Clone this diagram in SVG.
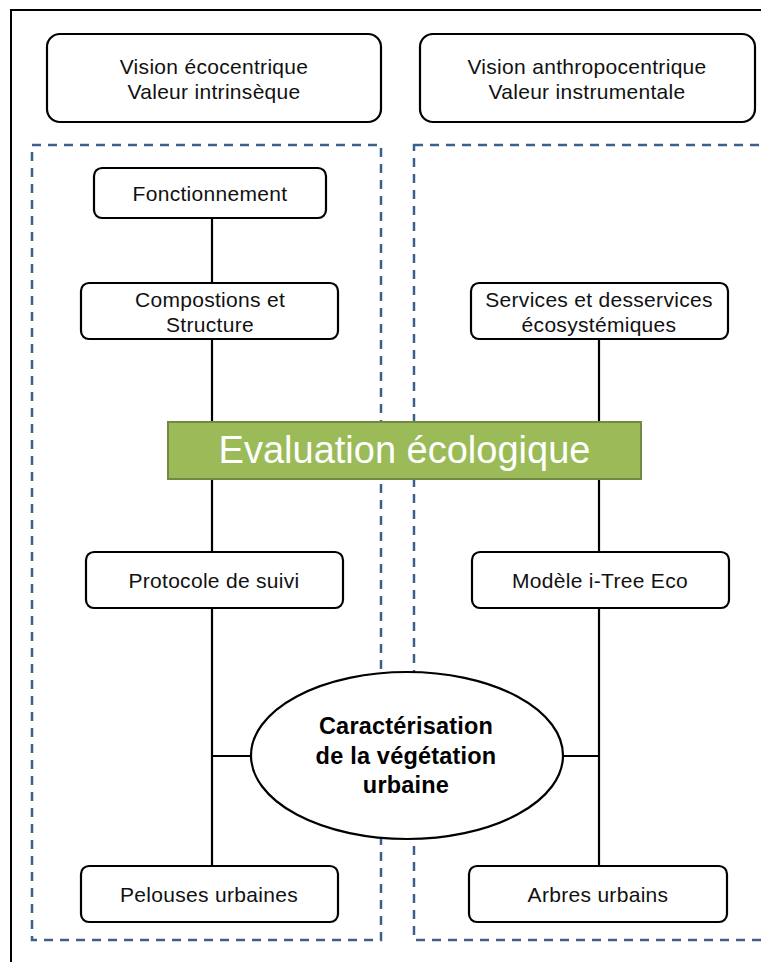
<svg xmlns="http://www.w3.org/2000/svg" width="761" height="962" viewBox="0 0 761 962">
<style>
.box{fill:#fff;stroke:#000;stroke-width:2.2}
.dash{fill:none;stroke:#3c5f8c;stroke-width:2.5;stroke-dasharray:9 7}
.t{font-family:"Liberation Sans",Arial,sans-serif;font-size:21px;letter-spacing:0.3px;fill:#111;text-anchor:middle}
.b{font-family:"Liberation Sans",Arial,sans-serif;font-size:23.5px;letter-spacing:0.2px;font-weight:bold;fill:#000;text-anchor:middle}
.g{font-family:"Liberation Sans",Arial,sans-serif;font-size:38px;fill:#fff;text-anchor:middle}
.ln{stroke:#000;stroke-width:2.2;fill:none}
</style>
<rect x="0" y="0" width="761" height="962" fill="#fff"/>
<rect id="frame" x="11" y="10" width="760" height="962" fill="none" stroke="#000" stroke-width="2"/>
<g id="dashed-left"><rect class="dash" x="32" y="145" width="349" height="795"/></g>
<g id="dashed-right"><rect class="dash" x="414" y="145" width="360" height="795"/></g>
<g id="connectors">
<line class="ln" x1="212" y1="218" x2="212" y2="283"/>
<line class="ln" x1="212" y1="339" x2="212" y2="422"/>
<line class="ln" x1="212" y1="479" x2="212" y2="552"/>
<line class="ln" x1="212" y1="608" x2="212" y2="866"/>
<line class="ln" x1="599" y1="339" x2="599" y2="422"/>
<line class="ln" x1="599" y1="479" x2="599" y2="552"/>
<line class="ln" x1="599" y1="608" x2="599" y2="866"/>
<line class="ln" x1="212" y1="756" x2="252" y2="756"/>
<line class="ln" x1="562" y1="756" x2="599" y2="756"/>
</g>
<g id="vision-eco"><rect class="box" x="47" y="34" width="334" height="88" rx="13"/>
<text class="t" x="214" y="73.5">Vision écocentrique</text><text class="t" x="214" y="99">Valeur intrinsèque</text></g>
<g id="vision-anthro"><rect class="box" x="420" y="34" width="335" height="88" rx="13"/>
<text class="t" x="587" y="73.5">Vision anthropocentrique</text><text class="t" x="587" y="99">Valeur instrumentale</text></g>
<g id="fonctionnement"><rect class="box" x="94" y="168" width="232" height="50" rx="8"/>
<text class="t" x="210" y="201">Fonctionnement</text></g>
<g id="compositions"><rect class="box" x="81" y="283" width="257" height="56" rx="8"/>
<text class="t" x="210" y="306.5">Compostions et</text><text class="t" x="210" y="332.3">Structure</text></g>
<g id="services"><rect class="box" x="471" y="283" width="257" height="56" rx="8"/>
<text class="t" x="599" y="306.5">Services et desservices</text><text class="t" x="599" y="332.3">écosystémiques</text></g>
<g id="evaluation"><rect x="168" y="422" width="473" height="57" fill="#9bbb59" stroke="#728a40" stroke-width="2"/>
<text class="g" x="404.5" y="463">Evaluation écologique</text></g>
<g id="protocole"><rect class="box" x="86" y="552" width="257" height="56" rx="8"/>
<text class="t" x="214" y="587.7">Protocole de suivi</text></g>
<g id="modele"><rect class="box" x="472" y="552" width="257" height="56" rx="8"/>
<text class="t" x="600" y="587.7">Modèle i-Tree Eco</text></g>
<g id="caracterisation"><ellipse class="box" cx="407" cy="755.5" rx="156" ry="83.5"/>
<text class="b" x="406" y="734">Caractérisation</text><text class="b" x="406" y="763.5">de la végétation</text><text class="b" x="406" y="793">urbaine</text></g>
<g id="pelouses"><rect class="box" x="81" y="866" width="257" height="56" rx="8"/>
<text class="t" x="209" y="901.7">Pelouses urbaines</text></g>
<g id="arbres"><rect class="box" x="469" y="866" width="258" height="56" rx="8"/>
<text class="t" x="598" y="901.7">Arbres urbains</text></g>
</svg>
